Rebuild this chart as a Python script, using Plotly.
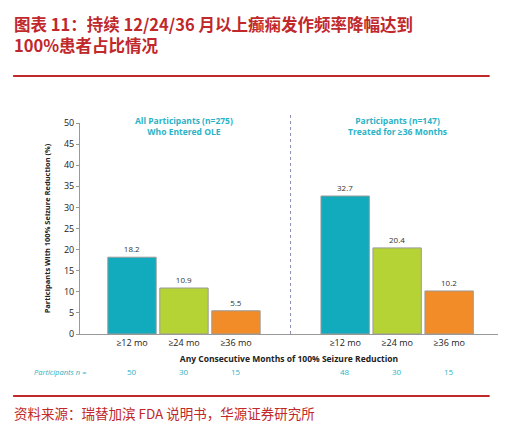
import plotly.graph_objects as go

categories = ["≥12 mo", "≥24 mo", "≥36 mo", "≥12 mo", "≥24 mo", "≥36 mo"]
positions = [1, 2, 3, 5.1, 6.1, 7.1]
values = [18.2, 10.9, 5.5, 32.7, 20.4, 10.2]
participants_n = [50, 30, 15, 48, 30, 15]
colors = ["#12abbd", "#b5d334", "#f28c28", "#12abbd", "#b5d334", "#f28c28"]
group_titles = ["All Participants (n=275)<br>Who Entered OLE", "Participants (n=147)<br>Treated for ≥36 Months"]
group_centers = [2, 6.1]
divider_x = 4.05
yticks = list(range(0, 51, 5))

red = "#c0282b"
teal = "#2ab3c6"
H = 211
def py(pix):
    return (326 - pix) / H

fig = go.Figure()
fig.add_bar(x=positions, y=values, width=0.93, marker=dict(color=colors, line=dict(color="#9a9a9a", width=1)),
            text=[f"{v}" for v in values], textposition="outside", textfont=dict(size=8, color="#333"),
            cliponaxis=False, showlegend=False)

fig.update_layout(
    width=506, height=421, margin=dict(l=72, r=16, t=115, b=95),
    paper_bgcolor="white", plot_bgcolor="white",
    font=dict(family="Open Sans", color="#333"),
    xaxis=dict(range=[0, 8.04], tickvals=positions, ticktext=categories, tickfont=dict(size=9, color="#222"),
               showline=True, linecolor="#999", showgrid=False, zeroline=False, ticks="",
               title=dict(text="<b>Any Consecutive Months of 100% Seizure Reduction</b>", font=dict(size=8.5, color="#222"), standoff=8)),
    yaxis=dict(range=[0, 50], tickvals=yticks, tickfont=dict(size=9, color="#222"), showline=True, linecolor="#999",
               ticks="outside", ticklen=3, tickcolor="#999", showgrid=False, zeroline=False,
               title=dict(text="<b>Participants With 100% Seizure Reduction (%)</b>", font=dict(size=7.5, color="#222"), standoff=12)),
    shapes=[
        dict(type="line", xref="x", yref="paper", x0=divider_x, x1=divider_x, y0=0, y1=py(104), line=dict(color="#8a8fb5", width=1, dash="dot")),
        dict(type="line", xref="paper", yref="paper", x0=-0.16, x1=0.98, y0=py(68), y1=py(68), line=dict(color=red, width=2)),
        dict(type="line", xref="paper", yref="paper", x0=-0.16, x1=0.98, y0=py(388), y1=py(388), line=dict(color=red, width=2)),
    ],
)
for t, c in zip(group_titles, group_centers):
    fig.add_annotation(x=c, y=py(105), xref="x", yref="paper", text=f"<b>{t}</b>", showarrow=False, yanchor="top",
                       font=dict(size=8.5, color=teal))
for p, n in zip(positions, participants_n):
    fig.add_annotation(x=p, y=py(371), xref="x", yref="paper", text=str(n), showarrow=False,
                       font=dict(size=8, color=teal))
fig.add_annotation(x=(24-72)/418, y=py(371), xref="paper", yref="paper", text="<i>Participants n =</i>",
                   showarrow=False, xanchor="left", font=dict(size=7.5, color=teal))
fig.add_annotation(x=(4-72)/418, y=py(2), xref="paper", yref="paper", xanchor="left", yanchor="top", align="left",
                   text="<b>图表 11：持续 12/24/36 月以上癫痫发作频率降幅达到<br>100%患者占比情况</b>", showarrow=False,
                   font=dict(size=16.5, color=red, family="Noto Sans CJK SC"))
fig.add_annotation(x=(4-72)/418, y=py(405), xref="paper", yref="paper", xanchor="left", yanchor="middle",
                   text="资料来源：瑞替加滨 FDA 说明书，华源证券研究所", showarrow=False,
                   font=dict(size=13.5, color=red, family="Noto Sans CJK SC"))
fig.write_html("out.html")
